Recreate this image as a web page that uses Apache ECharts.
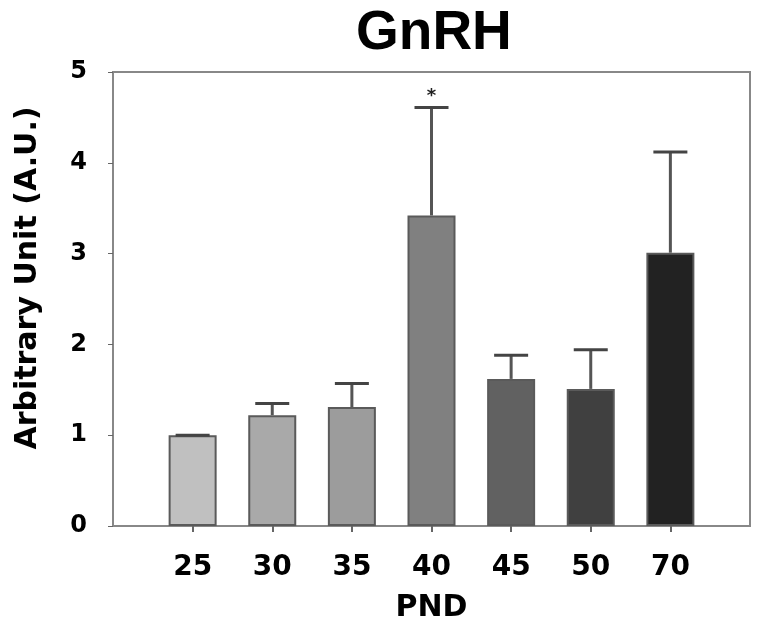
<!DOCTYPE html>
<html>
<head>
<meta charset="utf-8">
<script src="https://cdn.jsdelivr.net/npm/echarts@6/dist/echarts.min.js"></script>
<style>html,body{margin:0;padding:0;background:#fff;}#c{width:760px;height:628px;}</style>
</head>
<body>
<div id="c"></div>
<script>
const categories = ['25', '30', '35', '40', '45', '50', '70'];
const means = [1.0, 1.22, 1.31, 3.42, 1.62, 1.51, 3.01];
const errors = [0.0, 0.13, 0.26, 1.19, 0.26, 0.43, 1.11];
const marks = ['', '', '', '*', '', '', ''];
const barColors = ['#c0c0c0', '#a9a9a9', '#9c9c9c', '#808080', '#616161', '#404040', '#222222'];
const yTicks = [0, 1, 2, 3, 4, 5];

const axisCats = [''].concat(categories, ['']);
const barData = [null].concat(means.map((v, i) => ({ value: v, itemStyle: { color: barColors[i] } })), [null]);
const errData = means.map((v, i) => [i + 1, v, v + errors[i], marks[i]]);

const chart = echarts.init(document.getElementById('c'));
chart.setOption({
  animation: false,
  title: {
    text: 'GnRH',
    left: 356, top: 6, padding: 0,
    textStyle: { fontFamily: 'Liberation Sans', fontWeight: 'bold', fontSize: 55, color: '#000' }
  },
  grid: { left: 113, right: 10, top: 72, bottom: 101, show: true, borderColor: '#888', borderWidth: 2 },
  xAxis: {
    type: 'category',
    data: axisCats,
    boundaryGap: false,
    name: 'PND',
    nameLocation: 'middle',
    nameGap: 67,
    nameTextStyle: { fontFamily: 'DejaVu Sans', fontWeight: 'bold', fontSize: 30, color: '#000' },
    axisLine: { lineStyle: { color: '#888', width: 2 } },
    axisTick: { show: true, length: 6, lineStyle: { color: '#666', width: 2 }, interval: (i, v) => v !== '' },
    axisLabel: { margin: 28, fontFamily: 'DejaVu Sans', fontWeight: 'bold', fontSize: 28, color: '#000', interval: 0 },
    splitLine: { show: false }
  },
  yAxis: {
    type: 'value',
    min: yTicks[0], max: yTicks[yTicks.length - 1], interval: 1,
    name: 'Arbitrary Unit (A.U.)',
    nameLocation: 'middle',
    nameRotate: 90,
    nameGap: 70,
    nameTextStyle: { fontFamily: 'DejaVu Sans', fontWeight: 'bold', fontSize: 30, color: '#000', padding: [0, 0, 0, 42] },
    axisLine: { show: true, lineStyle: { color: '#888', width: 2 } },
    axisTick: { show: true, length: 5, lineStyle: { color: '#666', width: 1 } },
    axisLabel: { margin: 26, fontFamily: 'DejaVu Sans', fontWeight: 'bold', fontSize: 24, color: '#000' },
    splitLine: { show: false }
  },
  series: [
    {
      type: 'bar',
      data: barData,
      barWidth: 48,
      itemStyle: { borderColor: '#5a5a5a', borderWidth: 2 },
      z: 2
    },
    {
      type: 'custom',
      data: errData,
      z: 5,
      renderItem: function (params, api) {
        const top = api.coord([api.value(0), api.value(2)]);
        const base = api.coord([api.value(0), api.value(1)]);
        const mark = api.value(3);
        const children = [
          { type: 'line', shape: { x1: base[0], y1: base[1], x2: top[0], y2: top[1] }, style: { stroke: '#555', lineWidth: 3 } },
          { type: 'line', shape: { x1: top[0] - 17, y1: top[1], x2: top[0] + 17, y2: top[1] }, style: { stroke: '#444', lineWidth: 3 } }
        ];
        if (mark) {
          children.push({ type: 'text', style: { text: mark, x: top[0], y: top[1] - 2, align: 'center', verticalAlign: 'bottom', fontFamily: 'DejaVu Sans', fontWeight: 'bold', fontSize: 18, fill: '#222' } });
        }
        return { type: 'group', children: children };
      }
    }
  ]
});
</script>
</body>
</html>
